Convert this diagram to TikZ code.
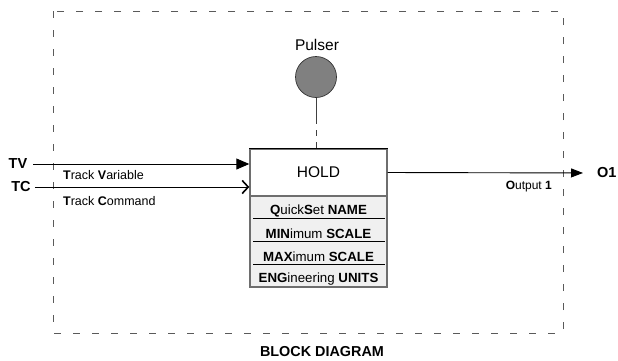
\documentclass[tikz,border=0pt]{standalone}
\usepackage{fontspec}
\setmainfont{Liberation Sans}
\usetikzlibrary{arrows.meta}
\definecolor{framegray}{RGB}{90,90,90}
\definecolor{boxedge}{RGB}{110,110,110}
\definecolor{panel}{RGB}{240,240,240}
\definecolor{pulsefill}{RGB}{128,128,128}
\tikzset{
  lbl/.style={inner sep=0pt, font=\fontsize{12.5}{14}\selectfont},
  big/.style={inner sep=0pt, font=\fontsize{14.5}{16}\selectfont\bfseries},
  rowtxt/.style={inner sep=0pt, font=\fontsize{13.3}{15}\selectfont},
  conn/.style={line width=0.9pt, black},
  frame/.style={draw=framegray, line width=0.8pt, dash pattern=on 7pt off 12pt},
}
\begin{document}
\begin{tikzpicture}[x=1pt,y=-1pt]
\useasboundingbox (0,0) rectangle (618,360);
% outer dashed frame
\draw[frame] (53,11) rectangle (563,333);
% block
\fill[panel] (250,196) rectangle (387,287);
\node[draw=boxedge, line width=1.4pt, fill=white, minimum width=137pt, minimum height=47pt, inner sep=0pt,
  font=\fontsize{15.5}{17}\selectfont] (hold) at (318.5,172.5) {HOLD};
\draw[boxedge, line width=1.4pt] (250,196) rectangle (387,287);
\draw[black, line width=0.8pt] (hold.north west) -- (hold.north east);
\coordinate (pl) at (250,196);
\coordinate (pr) at (387,287);
\node[rowtxt] (r1) at (318.5,211) {\textbf{Q}uick\textbf{S}et \textbf{NAME}};
\node[rowtxt] (r2) at (318.5,234) {\textbf{MIN}imum \textbf{SCALE}};
\node[rowtxt] (r3) at (318.5,257) {\textbf{MAX}imum \textbf{SCALE}};
\node[rowtxt] (r4) at (318.5,279) {\textbf{ENG}ineering \textbf{UNITS}};
\foreach \yy in {218,241,264}{
  \draw[black, line width=0.8pt] (253,\yy) -- (385,\yy);
}
% pulser
\node[inner sep=0pt, font=\fontsize{15.5}{17}\selectfont] (plab) at (317,45) {Pulser};
\node[circle, draw=black!80, line width=0.7pt, fill=pulsefill, minimum size=41pt, inner sep=0pt] (pulser) at (316,77) {};
\coordinate (pmid) at (316,118);
\draw[line width=0.9pt, black!75] (pulser.south) -- (pmid);
\draw[line width=0.9pt, black!75, dash pattern=on 6pt off 6pt] (pmid) -- (pmid |- hold.north);
% inputs
\node[big] (tv) at (18,164) {TV};
\node[big] (tc) at (21,187) {TC};
\draw[conn, -{Triangle[length=13pt,width=11pt]}] (tv.east) ++(6,0) coordinate (tvs) (tvs) -- (tvs -| hold.west);
\draw[conn, -{Straight Barb[length=6pt,width=13pt,line width=1.6pt]}] (tc.east) ++(4,0) coordinate (tcs) (tcs) -- (tcs -| hold.west);
\node[lbl, anchor=west] (tvar) at (63,175) {\textbf{T}rack \textbf{V}ariable};
\node[lbl, anchor=west] (tcmd) at (63,201) {\textbf{T}rack \textbf{C}ommand};
% output
\node[big, anchor=west] (o1) at (597,173) {O1};
\draw[conn, -{Triangle[length=12pt,width=9pt]}, shorten >=14pt] (hold.east) -- (o1.west);
\node[lbl, anchor=east, font=\fontsize{12}{14}\selectfont] (out) at (552,187) {\textbf{O}utput \textbf{1}};
% title
\node[inner sep=0pt, font=\fontsize{14.4}{16}\selectfont\bfseries] (title) at (322,352) {BLOCK DIAGRAM};
\end{tikzpicture}
\end{document}
